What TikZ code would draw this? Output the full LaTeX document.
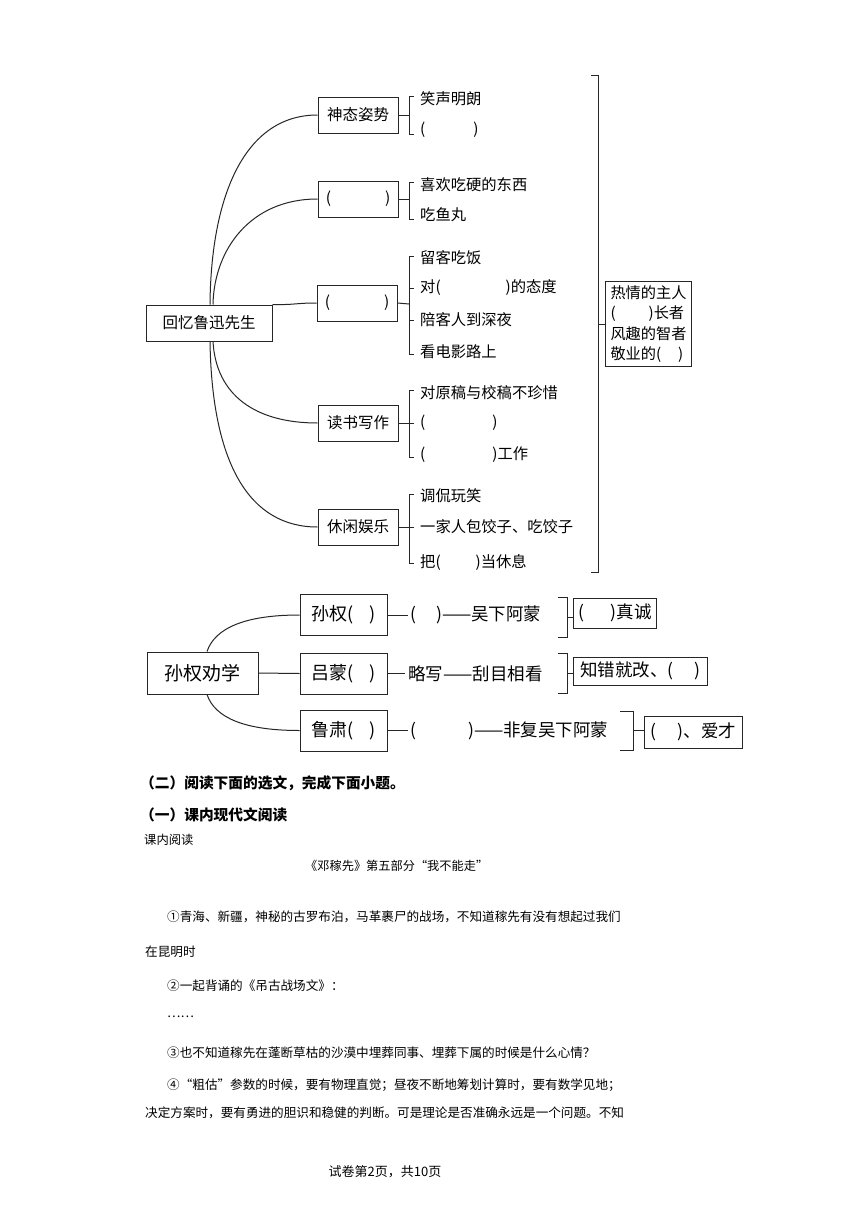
\documentclass[tikz,border=0pt]{standalone}
\usepackage{fontspec}
\setmainfont{Noto Sans CJK SC}
\tikzset{
  ln/.style={line width=1pt, black!85},
  bx/.style={draw=black!85, line width=1pt, minimum width=80pt, minimum height=36pt, inner sep=0pt, font=\fontsize{15.5}{18}\selectfont},
  itm/.style={anchor=west, inner sep=0pt, font=\fontsize{15.3}{18}\selectfont},
  bxb/.style={draw=black!85, line width=1pt, minimum width=87pt, minimum height=41pt, inner sep=0pt, font=\fontsize{18}{20}\selectfont},
  mid/.style={anchor=west, inner sep=0pt, font=\fontsize{17.5}{20}\selectfont},
  resb/.style={draw=black!85, line width=1pt, minimum height=30pt, inner sep=0pt, anchor=west, font=\fontsize{17.5}{20}\selectfont},
  para/.style={anchor=west, inner sep=0pt, font=\fontsize{12.6}{14}\selectfont},
  hd/.style={anchor=west, inner sep=0pt, font=\fontsize{14.7}{16}\selectfont\bfseries},
}
\begin{document}
\begin{tikzpicture}[x=1pt,y=-1pt]
\fill[white] (0,0) rectangle (860,1216);
\useasboundingbox (0,0) rectangle (860,1216);

% ---------- top mind map ----------
\node[bx, minimum width=126pt] (root) at (209,323) {回忆鲁迅先生};
\node[bx] (b1) at (358,115) {神态姿势};
\node[bx] (b2) at (358,199) {(\hspace{54pt})};
\node[bx] (b3) at (357,303) {(\hspace{54pt})};
\node[bx] (b4) at (358,423) {读书写作};
\node[bx] (b5) at (358,527) {休闲娱乐};

\draw[ln] ([xshift=1pt]root.north) .. controls (211,195) and (245,115) .. (b1.west);
\draw[ln] ([xshift=4pt]root.north) .. controls (214,250) and (250,199) .. (b2.west);
\draw[ln] (root.north east) .. controls (295,305) and (295,303) .. (b3.west);
\draw[ln] ([xshift=4pt]root.south) .. controls (216,395) and (255,423) .. (b4.west);
\draw[ln] ([xshift=1pt]root.south) .. controls (212,465) and (250,527) .. (b5.west);

% items
\node[itm] (i11) at (420,99) {笑声明朗};
\node[itm] (i12) at (420,130) {(\hspace{48pt})};
\node[itm] (i21) at (420,185) {喜欢吃硬的东西};
\node[itm] (i22) at (420,215) {吃鱼丸};
\node[itm] (i31) at (420,258) {留客吃饭};
\node[itm] (i32) at (420,288) {对(\hspace{65pt})的态度};
\node[itm] (i33) at (420,320) {陪客人到深夜};
\node[itm] (i34) at (420,352) {看电影路上};
\node[itm] (i41) at (420,393) {对原稿与校稿不珍惜};
\node[itm] (i42) at (420,423) {(\hspace{67pt})};
\node[itm] (i43) at (420,455) {(\hspace{67pt})工作};
\node[itm] (i51) at (420,496) {调侃玩笑};
\node[itm] (i52) at (420,527) {一家人包饺子、吃饺子};
\node[itm] (i53) at (420,562) {把(\hspace{35pt})当休息};

% brackets of groups
\draw[ln] (b1.east) -- (409,115);
\draw[ln] (414,96) -- (409,96) -- (409,134) -- (414,134);
\draw[ln] (b2.east) -- (409,199);
\draw[ln] (414,182) -- (409,182) -- (409,219) -- (414,219);
\draw[ln] (b3.east) -- (409,304);
\draw[ln] (414,256) -- (409,256) -- (409,354) -- (414,354);
\draw[ln] (409,288) -- (414,288);
\draw[ln] (409,320) -- (414,320);
\draw[ln] (b4.east) -- (409,423);
\draw[ln] (414,390) -- (409,390) -- (409,457) -- (414,457);
\draw[ln] (409,423) -- (414,423);
\draw[ln] (b5.east) -- (409,527);
\draw[ln] (414,494) -- (409,494) -- (409,563) -- (414,563);
\draw[ln] (409,527) -- (414,527);

% big right bracket and summary box
\draw[ln] (591,75) -- (598,75) -- (598,572) -- (591,572);
\node[draw=black!85, line width=1pt, align=left, anchor=west, inner xsep=5pt, inner ysep=4.5pt,
      font=\fontsize{15.2}{20.3}\selectfont] (sum) at (605,324)
  {热情的主人\\(\hspace{33pt})长者\\风趣的智者\\敬业的(\hspace{17pt})};
\coordinate (bk) at (598,324);
\draw[ln] (bk) -- (sum.west);

% ---------- second diagram ----------
\node[bxb, minimum width=111pt, minimum height=42pt, font=\fontsize{19}{21}\selectfont] (r2) at (202.5,673) {孙权劝学};
\node[bxb] (s1) at (343.5,615) {孙权(\hspace{16pt})};
\node[bxb] (s2) at (343.5,673.5) {吕蒙(\hspace{16pt})};
\node[bxb] (s3) at (343.5,730.5) {鲁肃(\hspace{16pt})};

\draw[ln] ([xshift=4.5pt]r2.north) .. controls (215,628) and (245,615) .. (s1.west);
\draw[ln] (r2.east) -- (s2.west);
\draw[ln] ([xshift=4.5pt]r2.south) .. controls (215,718) and (245,730.5) .. (s3.west);

\node[mid] (m1) at (410,615) {(\hspace{20pt})——吴下阿蒙};
\node[mid] (m2) at (408,673.5) {略写——刮目相看};
\node[mid] (m3) at (410,730.5) {(\hspace{52pt})——非复吴下阿蒙};
\draw[ln] (s1.east) -- ([xshift=-2pt]m1.west);
\draw[ln] (s2.east) -- ([xshift=-3pt]m2.west);
\draw[ln] (s3.east) -- ([xshift=-2pt]m3.west);

\draw[ln] (558,597) -- (567,597) -- (567,637) -- (558,637);
\draw[ln] (558,653) -- (567,653) -- (567,693) -- (558,693);
\draw[ln] (620,711) -- (633,711) -- (633,750) -- (620,750);
\node[resb, minimum width=83pt] (c1) at (573,613) {(\hspace{27pt})真诚};
\node[resb, minimum width=134pt, minimum height=28pt] (c2) at (573,671) {知错就改、(\hspace{21pt})};
\node[resb, minimum width=98pt, minimum height=32pt] (c3) at (644,732) {(\hspace{21pt})、爱才};
\coordinate (k1) at (567,617);
\coordinate (k2) at (567,673);
\coordinate (k3) at (633,730.5);
\draw[ln] (k1) -- (k1 -| c1.west);
\draw[ln] (k2) -- (k2 -| c2.west);
\draw[ln] (k3) -- (k3 -| c3.west);

% ---------- text ----------
\node[hd] (h1) at (140,783) {（二）阅读下面的选文，完成下面小题。};
\node[hd] (h2) at (140,815) {（一）课内现代文阅读};
\node[anchor=west, inner sep=0pt, font=\fontsize{12.3}{14}\selectfont] (h3) at (144,840) {课内阅读};
\node[anchor=west, inner sep=0pt, font=\fontsize{12.2}{14}\selectfont] (tt) at (305,866) {《邓稼先》第五部分“我不能走”};
\node[para] (p1) at (167,917) {①青海、新疆，神秘的古罗布泊，马革裹尸的战场，不知道稼先有没有想起过我们};
\node[para] (p1b) at (145,952) {在昆明时};
\node[para] (p2) at (167,986) {②一起背诵的《吊古战场文》：};
\node[para] (p2b) at (167,1017) {……};
\node[para] (p3) at (167,1053) {③也不知道稼先在蓬断草枯的沙漠中埋葬同事、埋葬下属的时候是什么心情？};
\node[para] (p4) at (167,1085) {④“粗估”参数的时候，要有物理直觉；昼夜不断地筹划计算时，要有数学见地；};
\node[para] (p4b) at (145,1113) {决定方案时，要有勇进的胆识和稳健的判断。可是理论是否准确永远是一个问题。不知};
\node[inner sep=0pt, font=\fontsize{13}{15}\selectfont] (ft) at (385,1172) {试卷第2页，共10页};
\end{tikzpicture}
\end{document}
